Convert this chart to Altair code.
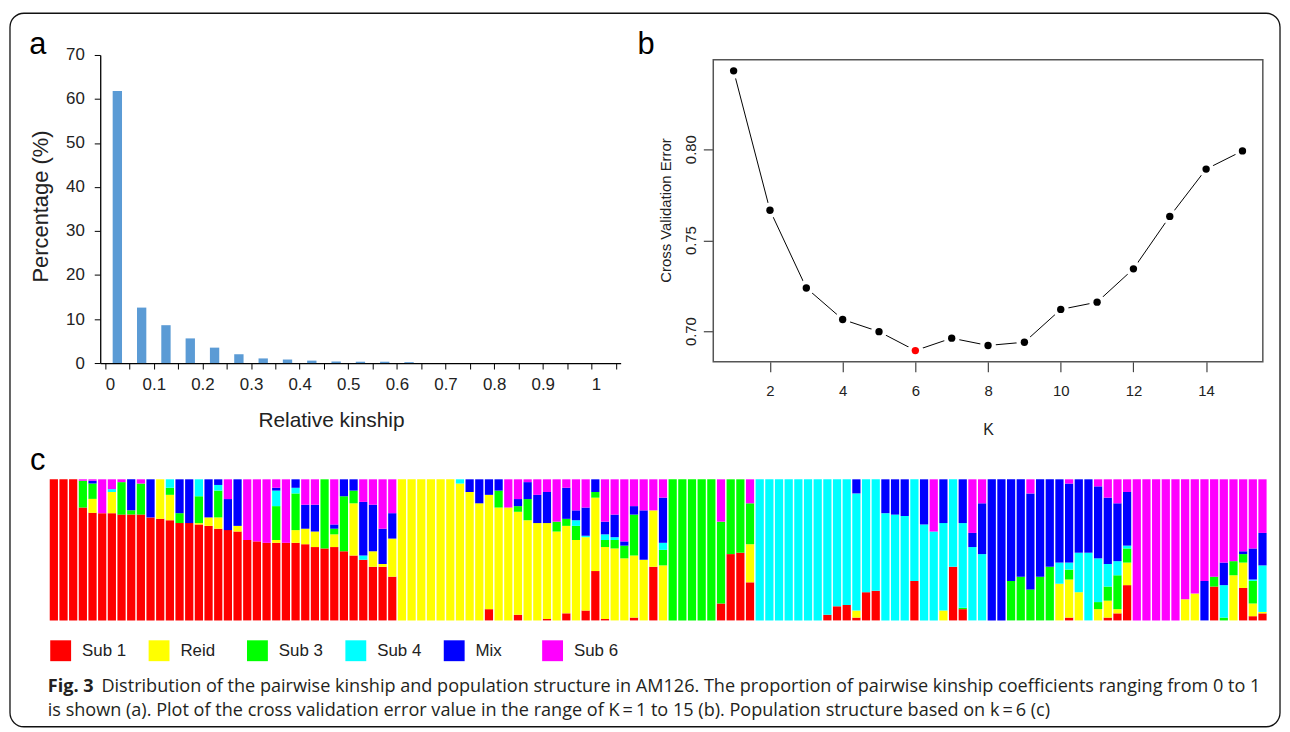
import altair as alt
import pandas as pd

# ---------------- data ----------------
# panel a: pairwise relative kinship histogram (bin start, % of pairs)
kin_bins = [0.0, 0.05, 0.1, 0.15, 0.2, 0.25, 0.3, 0.35, 0.4, 0.45, 0.5,
            0.55, 0.6, 0.65, 0.7, 0.75, 0.8, 0.85, 0.9, 0.95, 1.0]
kin_pct = [61.8, 12.6, 8.6, 5.6, 3.5, 2.0, 1.05, 0.8, 0.55, 0.35, 0.3,
           0.3, 0.2, 0.0, 0.0, 0.0, 0.0, 0.0, 0.0, 0.0, 0.0]
kin_ticks = [0.0, 0.05, 0.1, 0.15, 0.2, 0.25, 0.3, 0.35, 0.4, 0.45, 0.5,
             0.55, 0.6, 0.65, 0.7, 0.75, 0.8, 0.85, 0.9, 0.95, 1.0, 1.05]
pct_ticks = [0, 10, 20, 30, 40, 50, 60, 70]

# panel b: cross-validation error by K
cv_k = [1, 2, 3, 4, 5, 6, 7, 8, 9, 10, 11, 12, 13, 14, 15]
cv_err = [0.8433, 0.7667, 0.7240, 0.7067, 0.7000, 0.6896, 0.6964, 0.6924,
          0.6942, 0.7122, 0.7162, 0.7345, 0.7633, 0.7893, 0.7993]
k_ticks = [2, 4, 6, 8, 10, 12, 14]
err_ticks = [0.70, 0.75, 0.80]
best_k = 6

# panel c: ancestry proportions (%) of 126 accessions, K = 6
groups = ["Sub 1", "Reid", "Sub 3", "Sub 4", "Mix", "Sub 6"]
group_colors = ["#FF0000", "#FFFF00", "#00FF00", "#00FFFF", "#0000FF", "#FF00FF"]
sub1 = [100, 100, 100, 80, 77, 76, 76, 75, 75, 75,
        73, 72, 71, 69, 69, 68, 67, 65, 64, 63,
        57, 56, 55, 55, 55, 55, 54, 52, 51, 52,
        49, 46, 43, 38, 38, 31, 0, 0, 0, 0,
        0, 0, 0, 0, 0, 8, 0, 0, 4, 0,
        0, 1, 0, 5, 0, 7, 35, 1, 0, 0,
        2, 0, 38, 0, 0, 0, 0, 0, 0, 12,
        47, 48, 27, 0, 0, 0, 0, 0, 0, 0,
        4, 10, 11, 2, 20, 21, 0, 0, 0, 28,
        0, 0, 0, 38, 8, 0, 0, 0, 0, 0,
        0, 0, 0, 0, 0, 2, 0, 0, 0, 2,
        5, 25, 0, 0, 0, 0, 0, 0, 0, 0,
        24, 0, 0, 23, 3, 5]
reid = [0, 0, 0, 0, 10, 0, 15, 0, 0, 0,
        0, 28, 18, 0, 0, 1, 6, 8, 0, 4,
        0, 0, 0, 2, 0, 9, 11, 11, 0, 9,
        0, 37, 0, 11, 2, 27, 100, 100, 100, 100,
        100, 100, 97, 91, 83, 81, 80, 80, 73, 71,
        69, 68, 63, 62, 57, 52, 52, 51, 51, 44,
        44, 43, 40, 39, 0, 0, 0, 0, 0, 0,
        0, 0, 27, 0, 0, 0, 0, 0, 0, 0,
        0, 0, 0, 5, 0, 0, 0, 0, 0, 0,
        0, 0, 7, 0, 0, 0, 0, 0, 0, 0,
        0, 0, 0, 0, 26, 27, 20, 0, 8, 12,
        3, 16, 0, 0, 0, 0, 0, 15, 19, 0,
        0, 0, 32, 18, 9, 1]
sub3 = [0, 0, 0, 19, 11, 0, 0, 23, 3, 22,
        0, 0, 5, 7, 0, 19, 0, 19, 0, 0,
        0, 0, 0, 24, 0, 26, 0, 0, 49, 4,
        39, 9, 0, 0, 0, 0, 0, 0, 0, 0,
        0, 0, 0, 0, 0, 0, 12, 0, 4, 15,
        0, 0, 7, 5, 10, 0, 4, 5, 6, 9,
        29, 0, 0, 11, 100, 100, 100, 100, 100, 58,
        53, 52, 29, 0, 0, 0, 0, 0, 0, 0,
        0, 0, 0, 0, 0, 0, 0, 0, 0, 0,
        0, 0, 0, 0, 1, 0, 0, 0, 0, 28,
        31, 22, 31, 38, 0, 7, 0, 0, 5, 10,
        24, 10, 0, 0, 0, 0, 0, 0, 0, 0,
        7, 2, 10, 6, 16, 0]
sub4 = [0, 0, 0, 0, 0, 0, 2, 0, 0, 0,
        0, 0, 6, 0, 0, 12, 0, 4, 0, 0,
        0, 0, 0, 11, 0, 4, 0, 0, 0, 0,
        0, 0, 3, 0, 0, 0, 0, 0, 0, 0,
        0, 0, 3, 0, 0, 0, 0, 0, 0, 0,
        0, 0, 0, 0, 4, 1, 0, 4, 2, 0,
        0, 0, 0, 5, 0, 0, 0, 0, 0, 0,
        0, 0, 0, 100, 100, 100, 100, 100, 100, 100,
        96, 90, 89, 83, 80, 79, 76, 75, 74, 72,
        68, 63, 62, 62, 60, 52, 47, 0, 0, 0,
        0, 0, 0, 0, 15, 5, 28, 48, 31, 16,
        10, 2, 0, 0, 0, 0, 0, 0, 0, 0,
        0, 23, 0, 0, 1, 33]
mix = [0, 0, 0, 0, 2, 0, 0, 0, 22, 0,
       27, 0, 0, 24, 31, 0, 27, 4, 22, 33,
       0, 0, 0, 2, 0, 6, 17, 19, 0, 3,
       12, 8, 38, 33, 25, 18, 0, 0, 0, 0,
       0, 0, 0, 9, 17, 11, 8, 0, 5, 12,
       20, 22, 0, 22, 7, 20, 9, 9, 16, 3,
       6, 35, 0, 32, 0, 0, 0, 0, 0, 0,
       0, 0, 0, 0, 0, 0, 0, 0, 0, 0,
       0, 0, 0, 10, 0, 0, 24, 25, 26, 0,
       32, 0, 31, 0, 31, 10, 36, 100, 100, 72,
       69, 68, 69, 62, 59, 56, 52, 52, 51, 47,
       41, 38, 0, 0, 0, 0, 0, 0, 0, 28,
       0, 16, 0, 2, 22, 23]
sub6 = [0, 0, 0, 1, 1, 24, 7, 2, 0, 3,
        0, 0, 0, 0, 0, 0, 0, 0, 14, 0,
        43, 44, 45, 6, 45, 0, 18, 18, 0, 32,
        0, 0, 16, 18, 35, 24, 0, 0, 0, 0,
        0, 0, 0, 0, 0, 0, 0, 20, 14, 2,
        11, 9, 30, 6, 22, 20, 0, 30, 25, 44,
        19, 22, 22, 13, 0, 0, 0, 0, 0, 30,
        0, 0, 17, 0, 0, 0, 0, 0, 0, 0,
        0, 0, 0, 0, 0, 0, 0, 0, 0, 0,
        0, 37, 0, 0, 0, 38, 17, 0, 0, 0,
        0, 10, 0, 0, 0, 3, 0, 0, 5, 13,
        17, 9, 100, 100, 100, 100, 100, 85, 81, 72,
        69, 59, 58, 51, 49, 38]

caption1_bold = "Fig. 3"
caption1 = ("Distribution of the pairwise kinship and population structure in AM126. "
            "The proportion of pairwise kinship coefficients ranging from 0 to 1")
caption2 = ("is shown (a). Plot of the cross validation error value in the range of "
            "K\u2009=\u20091 to 15 (b). Population structure based on k\u2009=\u20096 (c)")

# ---------------- layout (pixels in the canvas) ----------------
W, H = 1282, 724
A_X0, A_X1, A_YB, A_YT = 92.8, 616.5, 355.0, 45.0
B_X0, B_X1, B_YB, B_YT = 709.7, 1262.7, 353.7, 49.7
C_X0, C_X1, C_YB, C_YT = 42.0, 1266.5, 614.0, 472.0
ARIAL = "Liberation Sans"
CAP = "Open Sans"

# ---------------- panel a ----------------
df_a = pd.DataFrame({"bin": kin_bins, "pct": kin_pct})
panel_a = alt.Chart(df_a).transform_calculate(
    mid="datum.bin + 0.025"
).mark_bar(color="#5B9BD5", width=9.4, orient="vertical").encode(
    x=alt.X("mid:Q",
            scale=alt.Scale(domain=[0, 1.05], range=[A_X0, A_X1], nice=False, zero=False),
            axis=alt.Axis(orient="bottom", offset=-(H - A_YB), values=kin_ticks,
                          labelExpr="round(datum.value*100) % 10 == 0 ? format(datum.value, '.1~f') : ''",
                          labelAlign={"condition": {"test": "datum.value < 0.01 || (datum.value > 0.99 && datum.value < 1.01)", "value": "left"}, "value": "center"},
                          grid=False, tickSize=6, tickColor="black", tickWidth=1,
                          domainColor="black", domainWidth=1.3,
                          labelFont=ARIAL, labelFontSize=17, labelColor="#222", labelPadding=8,
                          labelFlush=False, labelOverlap=False,
                          title="Relative kinship", titleFont=ARIAL, titleFontSize=21,
                          titleFontWeight="normal", titleColor="#222",
                          titleX=325, titleY=58, titleBaseline="middle", titleAlign="center")),
    y=alt.Y("pct:Q",
            scale=alt.Scale(domain=[0, 70], range=[A_YB, A_YT], nice=False),
            axis=alt.Axis(orient="left", offset=-A_X0, values=pct_ticks, grid=False,
                          tickSize=6, tickColor="black", domainColor="black", domainWidth=1.3,
                          labelFont=ARIAL, labelFontSize=17, labelColor="#222", labelPadding=10,
                          title="Percentage (%)", titleFont=ARIAL, titleFontSize=22,
                          titleFontWeight="normal", titleColor="#222",
                          titleX=32.8 - A_X0, titleY=197, titleBaseline="middle", titleAlign="center")),
)

# ---------------- panel b ----------------
err_lo, err_hi = min(cv_err), max(cv_err)
err_pad = 0.04 * (err_hi - err_lo)
k_pad = 0.04 * (max(cv_k) - min(cv_k))
xs_b = alt.Scale(domain=[min(cv_k) - k_pad, max(cv_k) + k_pad], range=[B_X0, B_X1], nice=False, zero=False)
ys_b = alt.Scale(domain=[err_lo - err_pad, err_hi + err_pad], range=[B_YB, B_YT], nice=False, zero=False)
df_b = pd.DataFrame({"k": cv_k, "err": cv_err})

box_b = alt.Chart().mark_rect(fillOpacity=0, stroke="#555", strokeWidth=1.5).encode(
    x=alt.value(B_X0), x2=alt.value(B_X1), y=alt.value(B_YT), y2=alt.value(B_YB))

line_b = alt.Chart(df_b).mark_line(color="black", strokeWidth=1).encode(
    x=alt.X("k:Q", scale=xs_b,
            axis=alt.Axis(orient="bottom", offset=-(H - B_YB), values=k_ticks, domain=False,
                          grid=False, tickSize=10, tickColor="#444", tickWidth=1.2,
                          labelFont=ARIAL, labelFontSize=15, labelColor="#222", labelPadding=12,
                          title="K", titleFont=ARIAL, titleFontSize=16, titleFontWeight="normal",
                          titleColor="#222", titleX=(B_X0 + B_X1) / 2, titleY=68.3,
                          titleBaseline="middle", titleAlign="center")),
    y=alt.Y("err:Q", scale=ys_b,
            axis=alt.Axis(orient="left", offset=-B_X0, values=err_ticks, labels=False,
                          domain=False, grid=False, tickSize=10, tickColor="#444", tickWidth=1.2,
                          title="Cross Validation Error", titleFont=ARIAL, titleFontSize=15,
                          titleFontWeight="normal", titleColor="#222",
                          titleX=662 - B_X0, titleY=201, titleBaseline="middle", titleAlign="center")),
)
# rotated y tick labels (R draws them parallel to the axis)
ylab_b = alt.Chart(pd.DataFrame({"v": err_ticks})).mark_text(
    font=ARIAL, fontSize=15, color="#222", align="center", baseline="middle"
).encode(
    x=alt.value(B_X0 - 22.7),
    y=alt.Y("v:Q", scale=ys_b, axis=None),
    text=alt.Text("v:Q", format=".2f"),
    angle=alt.value(270),
)
halo_b = alt.Chart(df_b).mark_point(filled=True, color="white", opacity=1, size=250).encode(
    x=alt.X("k:Q", scale=xs_b, axis=None), y=alt.Y("err:Q", scale=ys_b, axis=None))
pts_b = alt.Chart(df_b).mark_point(filled=True, opacity=1, size=55).encode(
    x=alt.X("k:Q", scale=xs_b, axis=None), y=alt.Y("err:Q", scale=ys_b, axis=None),
    color=alt.condition(alt.datum.k == best_k, alt.value("#FF0000"), alt.value("black")))

# ---------------- panel c ----------------
rows = []
for i in range(len(sub1)):
    for j, (g, arr) in enumerate(zip(groups, [sub1, reid, sub3, sub4, mix, sub6])):
        rows.append({"ind": i + 1, "group": g, "ord": j, "value": arr[i]})
df_c = pd.DataFrame(rows)

panel_c = alt.Chart(df_c).mark_bar(strokeWidth=0).encode(
    x=alt.X("ind:O", scale=alt.Scale(range=[C_X0, C_X1], paddingInner=0.15, paddingOuter=0), axis=None),
    y=alt.Y("value:Q", stack="normalize", scale=alt.Scale(range=[C_YB, C_YT], nice=False), axis=None),
    color=alt.Color("group:N", scale=alt.Scale(domain=groups, range=group_colors),
                    legend=alt.Legend(orient="none", legendX=42.5, legendY=634, direction="horizontal",
                                      title=None, symbolType="square", symbolSize=441,
                                      symbolStrokeWidth=0, symbolOpacity=1, labelFont=ARIAL,
                                      labelFontSize=17, labelColor="#222", labelOffset=11,
                                      columnPadding=22, gridAlign="all", padding=0, columns=6)),
    order=alt.Order("ord:Q", sort="ascending"),
)

# ---------------- texts ----------------
def txt(s, x, y, size, font, weight="normal", align="left", color="#222"):
    return alt.Chart().mark_text(text=s, fontSize=size, font=font, fontWeight=weight,
                                 align=align, baseline="alphabetic", color=color).encode(
        x=alt.value(x), y=alt.value(y))

letters = [txt("a", 30, 44, 31, ARIAL, align="center", color="black"),
           txt("b", 642, 44, 31, ARIAL, align="center", color="black"),
           txt("c", 30, 463, 31, ARIAL, align="center", color="black")]
captions = [txt(caption1_bold, 40, 686, 18.2, CAP, weight="bold", color="#231F20"),
            txt(caption1, 94, 686, 18.2, CAP, color="#231F20"),
            txt(caption2, 40, 710, 18.2, CAP, color="#231F20")]

border = alt.Chart().mark_rect(fillOpacity=0, stroke="#111", strokeWidth=1.3, cornerRadius=14).encode(
    x=alt.value(2), x2=alt.value(1280), y=alt.value(3), y2=alt.value(721))

chart = alt.layer(
    border, panel_a, box_b, line_b, ylab_b, halo_b, pts_b, panel_c, *letters, *captions
).resolve_scale(
    x="independent", y="independent", color="independent"
).resolve_axis(
    x="independent", y="independent"
).properties(
    width=W, height=H, padding=0, autosize=alt.AutoSizeParams(type="none"),
    background="white"
).configure_view(strokeWidth=0)

chart.save("out.html", embed_options={"renderer": "svg", "actions": False})
